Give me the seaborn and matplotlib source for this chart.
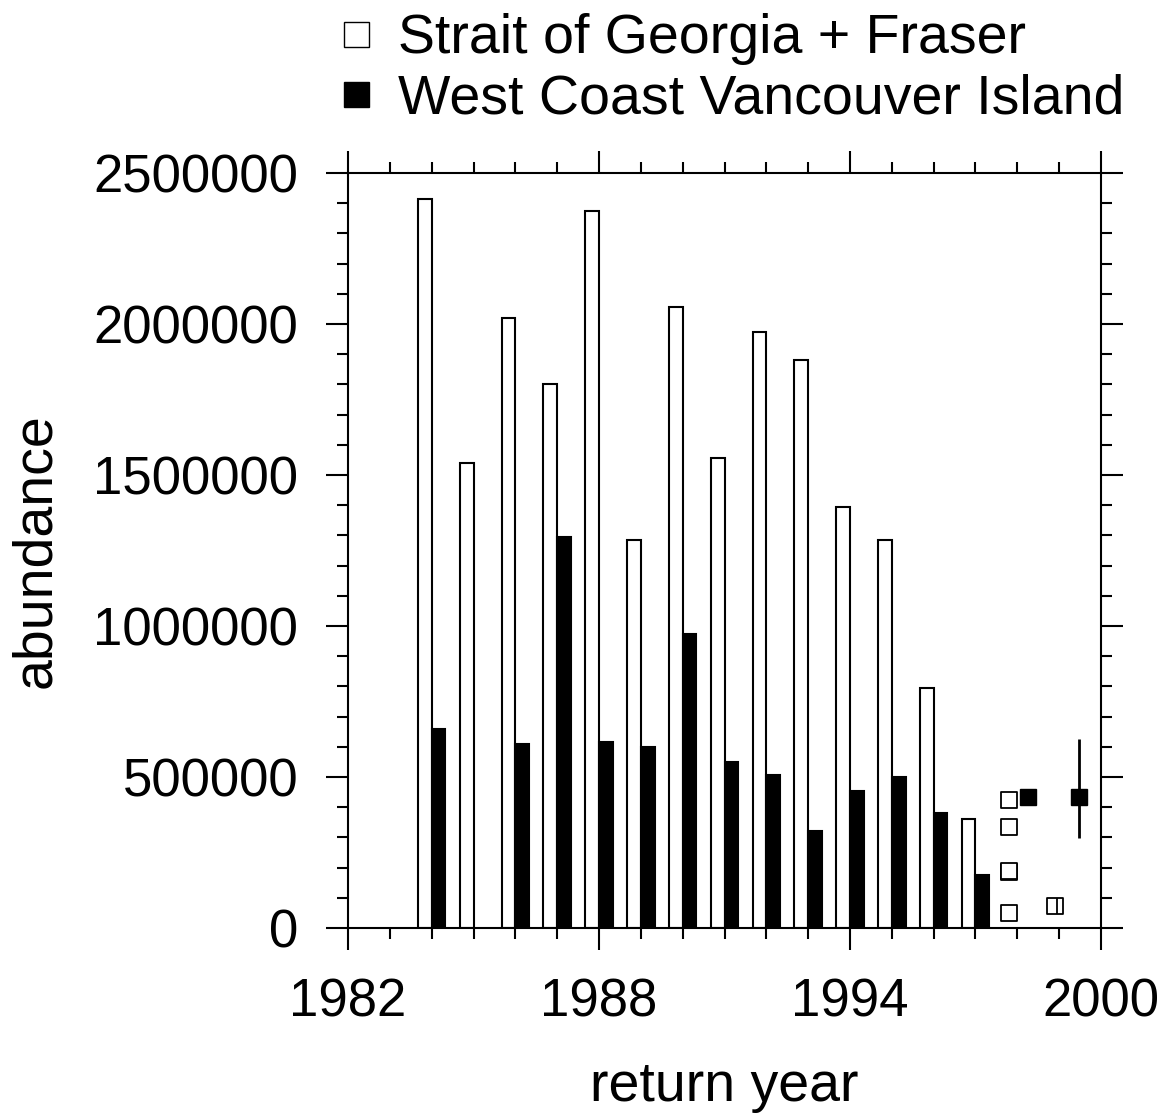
# IMPORT LIBRARIES
import pandas as pd
import matplotlib.pyplot as plt
import seaborn as sns
from matplotlib.ticker import MultipleLocator
from matplotlib.lines import Line2D


# DATA
years = [1984, 1985, 1986, 1987, 1988, 1989, 1990, 1991, 1992, 1993, 1994, 1995, 1996, 1997]
sog = [2415000, 1540000, 2020000, 1800000, 2375000, 1285000, 2055000,
       1555000, 1975000, 1880000, 1395000, 1285000, 795000, 362000]
wcvi = [660000, None, 608000, 1295000, 615000, 600000, 975000,
        548000, 505000, 320000, 455000, 500000, 380000, 175000]

# forecasts / extra points
sog_pt_x = [1997.8, 1997.8, 1997.8, 1997.8, 1997.8, 1998.9]
sog_pt_y = [424000, 334000, 185000, 187000, 50000, 73000]
wcvi_pt_x = [1998.26, 1999.48]
wcvi_pt_y = [434000, 434000]
wcvi_err_lo = [0, 136000]
wcvi_err_hi = [0, 192000]

labels = ["Strait of Georgia + Fraser", "West Coast Vancouver Island"]

df = pd.DataFrame({
    "year": years * 2,
    "abundance": sog + wcvi,
    "stock": [labels[0]] * len(years) + [labels[1]] * len(years),
}).dropna()


# PLOT
sns.set_style("ticks")
plt.rcParams["font.family"] = ["Liberation Sans", "DejaVu Sans"]
plt.rcParams["text.color"] = "black"
plt.rcParams["axes.labelcolor"] = "black"
plt.rcParams["xtick.color"] = "black"
plt.rcParams["ytick.color"] = "black"

fig = plt.figure(figsize=(11.73, 11.14), dpi=100)
ax = fig.add_axes([0.2967, 0.1670, 0.6419, 0.6777])

sns.barplot(data=df, x="year", y="abundance", hue="stock", hue_order=labels,
            palette={labels[0]: "white", labels[1]: "black"},
            native_scale=True, width=0.66, edgecolor="black", linewidth=1.5,
            errorbar=None, legend=False, ax=ax)

sns.scatterplot(x=sog_pt_x, y=sog_pt_y, marker="s", s=120, color="white",
                edgecolor="black", linewidth=1.3, ax=ax, zorder=5)
ax.plot([1998.95], [73000], marker="|", markersize=11, color="black", mew=1.3, zorder=6)
ax.errorbar(wcvi_pt_x, wcvi_pt_y, yerr=[wcvi_err_lo, wcvi_err_hi], fmt="s",
            color="black", markersize=11, elinewidth=2, capsize=0, zorder=5)

ax.set_xlim(1982, 2000)
ax.set_ylim(0, 2500000)
ax.set_xticks([1982, 1988, 1994, 2000])
ax.xaxis.set_minor_locator(MultipleLocator(1))
ax.yaxis.set_major_locator(MultipleLocator(500000))
ax.yaxis.set_minor_locator(MultipleLocator(100000))
ax.ticklabel_format(style="plain", axis="y")

ax.tick_params(which="both", direction="out", top=True, right=True,
               width=1.5, colors="black", labelcolor="black", labelsize=38)
ax.tick_params(which="major", length=16, pad=20)
ax.tick_params(which="minor", length=8)
for s in ax.spines.values():
    s.set_linewidth(1.5)
    s.set_color("black")

ax.set_xlabel("return year", fontsize=40, labelpad=24, color="black")
ax.set_ylabel("abundance", fontsize=40, labelpad=22, color="black")

handles = [
    Line2D([], [], ls="", marker="s", markersize=18, mfc="white", mec="black", mew=1),
    Line2D([], [], ls="", marker="s", markersize=18, mfc="black", mec="black", mew=1),
]
leg = fig.legend(handles, labels, loc="upper left", bbox_to_anchor=(0.28, 0.993),
                 frameon=False, fontsize=40, handlelength=0.8, handletextpad=0.35,
                 labelspacing=0.15, borderpad=0.1, borderaxespad=0)
for t in leg.get_texts():
    t.set_color("black")

fig.savefig("out.png", dpi=100)
